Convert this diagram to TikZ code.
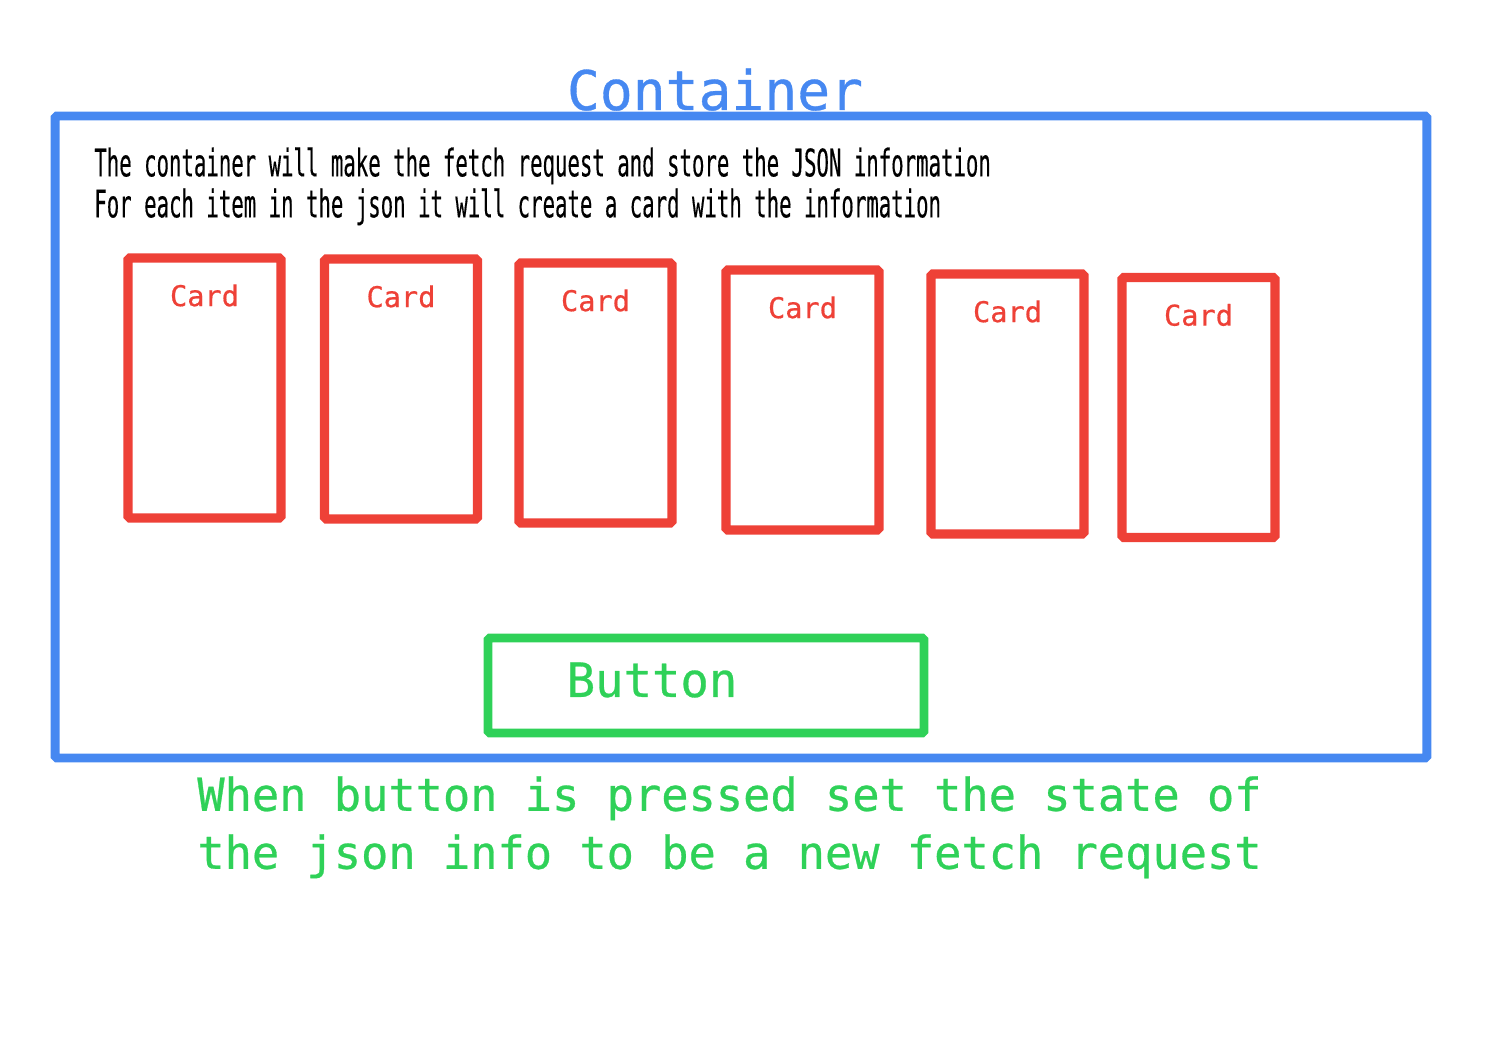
\documentclass[tikz,border=0pt]{standalone}
\usepackage{fontspec}
\usepackage{tikz}
\usetikzlibrary{calc,positioning}
\newfontfamily\monofont[FakeBold=0.6]{DejaVu Sans Mono}
\newfontfamily\narrowfont[FakeStretch=0.545,FakeBold=0.3]{DejaVu Sans Mono}
\definecolor{boxblue}{HTML}{4688F1}
\definecolor{cardred}{HTML}{EE4137}
\definecolor{btngreen}{HTML}{2FD158}
\tikzset{
  card/.style={draw=cardred,line width=5.2pt,rounded corners=1pt,rectangle,inner sep=0pt,minimum width=3.06cm,minimum height=5.2cm},
  cardtext/.style={text=cardred,inner sep=0pt,font=\monofont\fontsize{16.3}{18}\selectfont},
}
\newcommand{\tikzCardNode}[2]{
  \node[card] (#1) at (#2) {};
  \node[cardtext] (#1label) at ($(#1.north)+(0,42)$) {Card};
}

\begin{document}
\begin{tikzpicture}[x=0.02cm, y=-0.02cm]
  \useasboundingbox (0,0) rectangle (1487,1054);

  \node[draw=boxblue,line width=5pt,rounded corners=1pt,rectangle,inner sep=0pt,minimum width=27.44cm,minimum height=12.84cm] (container) at (741,437) {};
  \node[text=boxblue,inner sep=0pt,anchor=base,font=\monofont\fontsize{31.1}{36}\selectfont] (title) at (715,110) {Container};

  \node[anchor=north west,align=left,inner sep=0pt,font=\narrowfont\fontsize{21.6}{23.3}\selectfont] (info) at (94,147)
    {The container will make the fetch request and store the JSON information\\
     For each item in the json it will create a card with the information};

  \tikzCardNode{c1}{204.5,388}
  \tikzCardNode{c2}{401,389}
  \tikzCardNode{c3}{595.5,393}
  \tikzCardNode{c4}{802.5,400}
  \tikzCardNode{c5}{1007.5,404}
  \tikzCardNode{c6}{1198.5,407.5}

  \node[draw=btngreen,line width=5pt,rounded corners=1pt,rectangle,inner sep=0pt,minimum width=8.72cm,minimum height=1.9cm] (btn) at (706,685.5) {};
  \node[text=btngreen,inner sep=0pt,font=\monofont\fontsize{26.9}{30}\selectfont] (btnlabel) at ($(btn.center)+(-54,-5.5)$) {Button};

  \node[anchor=north west,align=left,inner sep=0pt,text=btngreen,font=\monofont\fontsize{25.8}{33}\selectfont] (note) at (197,776)
    {When button is pressed set the state of\\
     the json info to be a new fetch request};
\end{tikzpicture}
\end{document}
